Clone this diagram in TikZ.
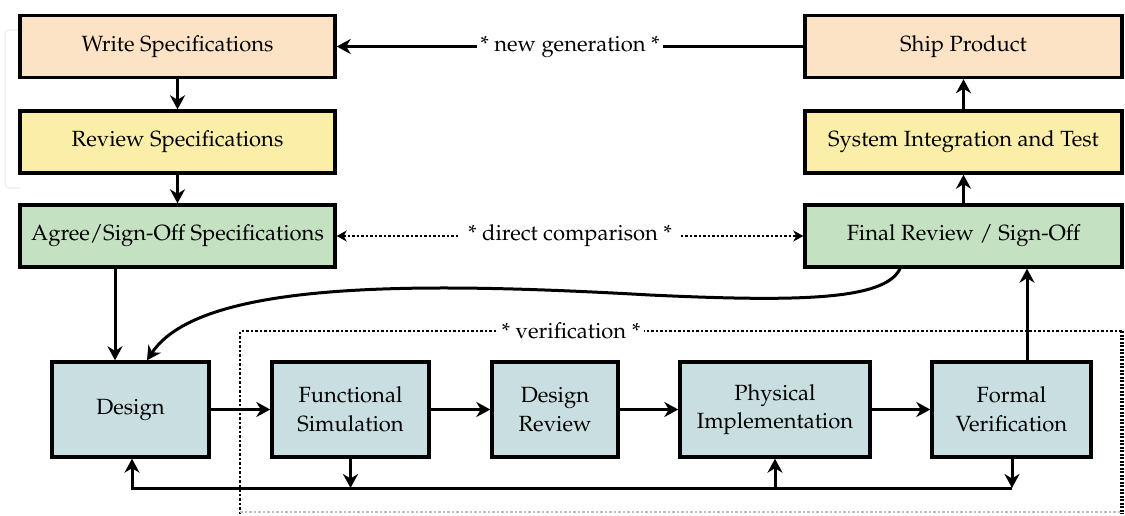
\documentclass[tikz,border=0pt]{standalone}
\usepackage[T1]{fontenc}
\usepackage{mathpazo}
\usetikzlibrary{arrows.meta}
\definecolor{cPeach}{HTML}{FCE3C6}
\definecolor{cYellow}{HTML}{FBEEA8}
\definecolor{cGreen}{HTML}{C4E2C2}
\definecolor{cBlue}{HTML}{C9DEE1}
\begin{document}
\begin{tikzpicture}[x=1pt,y=-1pt,
  box/.style={draw=black,line width=3.4pt,inner sep=0pt,align=center,
    font=\fontsize{22}{28.5}\selectfont},
  topbox/.style={box,minimum width=315pt,minimum height=62pt},
  lowbox/.style={box,minimum height=95pt,fill=cBlue},
  arr/.style={line width=3pt,-{Stealth[length=14pt,width=15pt,inset=4.5pt]}},
  dotarr/.style={line width=1.8pt,dash pattern=on 2.5pt off 2pt,
    {Stealth[length=10pt,width=11pt,inset=3pt]}-{Stealth[length=10pt,width=11pt,inset=3pt]}},
  dotline/.style={line width=1.8pt,dash pattern=on 2.5pt off 2pt},
  lbl/.style={fill=white,inner sep=4pt,font=\fontsize{22}{28}\selectfont}
]
\useasboundingbox (0,0) rectangle (1125,515);
% faint background artefact
\draw[gray!12,line width=1.5pt,rounded corners=4pt] (20,30) -- (5,30) -- (5,188) -- (20,188);

% verification frame
\draw[dotline] (240,514) -- (240,331) -- (1122,331);
\draw[line width=3.2pt,dash pattern=on 2pt off 1.5pt] (1122,331) -- (1122,514);
\draw[dotline,black!25] (240,512) -- (1122,512);
\node[lbl] (verif) at (571,331) {* verification *};

% top rows
\node[topbox,fill=cPeach]  (write)  at (177.5,46.5) {Write Specifications};
\node[topbox,fill=cYellow] (review) at (177.5,142)  {Review Specifications};
\node[topbox,fill=cGreen]  (agree)  at (177.5,236)  {Agree/Sign-Off Specifications};
\node[topbox,fill=cPeach,minimum width=317pt]  (ship)   at (963.5,46.5) {Ship Product};
\node[topbox,fill=cYellow,minimum width=317pt] (sysint) at (963.5,142)  {System Integration and Test};
\node[topbox,fill=cGreen,minimum width=317pt]  (final)  at (963.5,236)  {Final Review / Sign-Off};

% bottom row
\node[lowbox,minimum width=157pt] (design) at (130.5,409.5) {Design};
\node[lowbox,minimum width=157pt] (func)   at (350.5,409.5) {Functional\\Simulation};
\node[lowbox,minimum width=126pt] (drev)   at (555,409.5)   {Design\\Review};
\node[lowbox,minimum width=190pt] (phys)   at (775,409.5)   {Physical\\Implementation};
\node[lowbox,minimum width=159pt] (formal) at (1011.5,409.5) {Formal\\Verification};

% coordinates
\coordinate (ax) at (115,0);
\coordinate (fx) at (1027,0);
\coordinate (fbL) at (132,488);
\coordinate (fbR) at (1012,488);
\coordinate (cs) at (900,0);
\coordinate (ce) at (147,0);

% vertical flow
\draw[arr] (write) -- (review);
\draw[arr] (review) -- (agree);
\draw[arr] (agree.south -| ax) -- (design.north -| ax);
\draw[arr] (final) -- (sysint);
\draw[arr] (sysint) -- (ship);
\draw[arr] (formal.north -| fx) -- (final.south -| fx);

% new generation
\draw[line width=3pt] (ship.west) -- (663,46.5);
\draw[arr] (478,46.5) -- (write.east);
\node[fill=white,inner sep=3pt,font=\fontsize{22}{28}\selectfont] (newgen) at (570,46.5) {* new generation *};

% direct comparison
\draw[dotarr] (agree.east) -- node[lbl,inner sep=8pt] (dcomp) {* direct comparison *} (final.west);

% horizontal flow
\draw[arr] (design) -- (func);
\draw[arr] (func) -- (drev);
\draw[arr] (drev) -- (phys);
\draw[arr] (phys) -- (formal);

% feedback loop
\draw[arr] (formal.south -| fbR) -- (fbR);
\draw[arr] (func.south) -- (func.south |- fbL);
\draw[arr] (fbR) -- (fbL) -- (design.south -| fbL);
\draw[arr] (phys.south |- fbL) -- (phys.south);

% curved return
\draw[arr] (final.south -| cs) .. controls (885,300) and (800,302) .. (650,295)
  .. controls (420,282) and (200,280) .. (design.north -| ce);
\end{tikzpicture}
\end{document}
